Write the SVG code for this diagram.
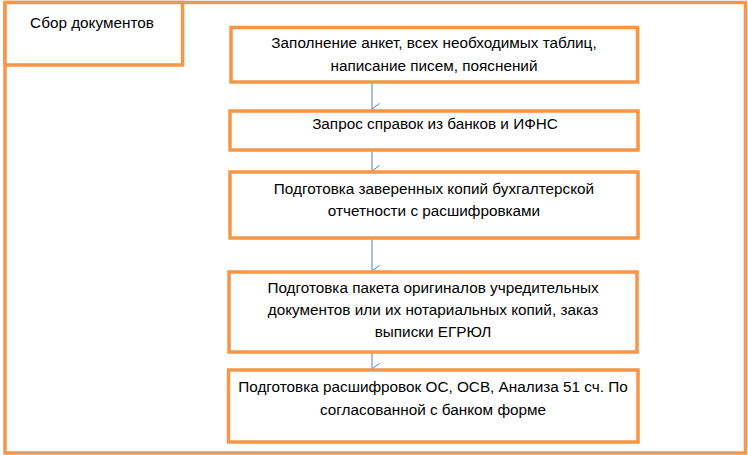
<svg xmlns="http://www.w3.org/2000/svg" width="748" height="455" viewBox="0 0 748 455">
<style>
.box{fill:#fff;stroke:#F79646;stroke-width:3.5}
.t{font-family:"Liberation Sans",Arial,sans-serif;font-size:15.3px;fill:#000;text-anchor:middle}
.c{stroke:#4F81BD;stroke-width:1;fill:none}
</style>
<defs>
<marker id="a" markerWidth="12" markerHeight="10" refX="6" refY="8" orient="auto-start-reverse" markerUnits="userSpaceOnUse" viewBox="0 0 12 10">
<path d="M0.5,0.5 L6,8 L11.5,0.5" fill="none" stroke="#4F81BD" stroke-width="1"/>
</marker>
</defs>
<g id="frame"><rect class="box" x="5" y="2.5" width="740.5" height="450.5"/></g>
<g id="title"><rect class="box" x="5" y="2.5" width="177.5" height="62.5"/><text class="t" x="92" y="28">Сбор документов</text></g>
<g id="connectors">
<line class="c" x1="372" y1="82" x2="372" y2="109" marker-end="url(#a)"/>
<line class="c" x1="372" y1="150" x2="372" y2="171" marker-end="url(#a)"/>
<line class="c" x1="372" y1="238" x2="372" y2="271" marker-end="url(#a)"/>
<line class="c" x1="372" y1="352" x2="372" y2="369" marker-end="url(#a)"/>
</g>
<g id="n1"><rect class="box" x="231" y="27.5" width="406.5" height="54.5"/><text class="t" x="434" y="48">Заполнение анкет, всех необходимых таблиц,</text><text class="t" x="434" y="71">написание писем, пояснений</text></g>
<g id="n2"><rect class="box" x="230" y="111" width="408" height="39"/><text class="t" x="435" y="129">Запрос справок из банков и ИФНС</text></g>
<g id="n3"><rect class="box" x="230" y="172" width="408" height="66"/><text class="t" x="434" y="194">Подготовка заверенных копий бухгалтерской</text><text class="t" x="434" y="216">отчетности с расшифровками</text></g>
<g id="n4"><rect class="box" x="229" y="272" width="408" height="80"/><text class="t" x="433" y="293">Подготовка пакета оригиналов учредительных</text><text class="t" x="433" y="315">документов или их нотариальных копий, заказ</text><text class="t" x="433" y="337">выписки ЕГРЮЛ</text></g>
<g id="n5"><rect class="box" x="228.5" y="370" width="409.5" height="72"/><text class="t" x="433" y="392">Подготовка расшифровок ОС, ОСВ, Анализа 51 сч. По</text><text class="t" x="433" y="415">согласованной с банком форме</text></g>
</svg>
